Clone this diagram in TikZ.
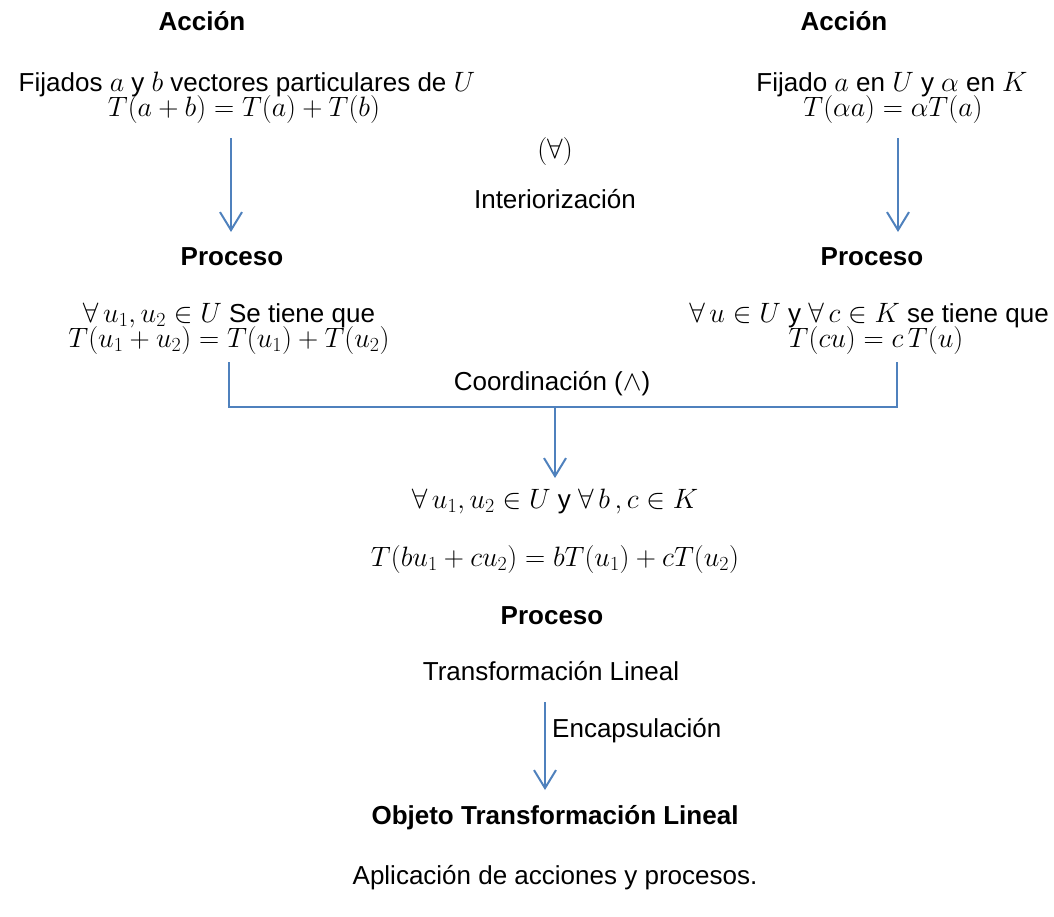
\RequirePackage{fix-cm}
\documentclass[tikz,border=0pt]{standalone}
\usepackage{fontspec}
\setmainfont{Liberation Sans}
\DeclareMathSizes{26}{28}{20}{15}
\usetikzlibrary{arrows.meta}
\definecolor{arrowblue}{RGB}{79,129,189}
\begin{document}
\begin{tikzpicture}[x=1pt,y=-1pt,
  every node/.style={inner sep=0pt, anchor=base, font=\fontsize{26}{24}\selectfont},
  head/.style={font=\fontsize{26}{24}\selectfont\bfseries},
  conn/.style={draw=arrowblue, line width=2pt},
  arr/.style={conn, -{Straight Barb[length=18pt,width=22pt]}}]
\useasboundingbox (0,0) rectangle (1054,916);
% texts
\node[head] (actL) at (202,30) {Acción};
\node[head] (actR) at (844,30) {Acción};
\node (fL1) at (247,91) {Fijados $a$ y $b$ vectores particulares de $U$};
\node (fL2) at (244,116) {$T(a+b)=T(a)+T(b)$};
\node (fR1) at (892,91) {Fijado $a$ en $U$ y $\alpha$ en $K$};
\node (fR2) at (893,116) {$T(\alpha a)=\alpha T(a)$};
\node (forall) at (555,158) {$(\forall)$};
\node (inter) at (555,208) {Interiorización};
\node[head] (pL) at (232,265) {Proceso};
\node[head] (pR) at (872,265) {Proceso};
\node (gL1) at (229,322) {$\forall\, u_1,u_2\in U$ Se tiene que};
\node (gL2) at (229,347) {$T(u_1+u_2)=T(u_1)+T(u_2)$};
\node (gR1) at (869,322) {$\forall\, u\in U$ y $\forall\, c\in K$ se tiene que};
\node (gR2) at (876,347) {$T(cu)=c\,T(u)$};
\node (coord) at (552,390) {Coordinación ($\wedge$)};
\node (h1) at (555,508) {$\forall\, u_1,u_2\in U$ y $\forall\, b\,,c\in K$};
\node (h2) at (555,566) {$T(bu_1+cu_2)=bT(u_1)+cT(u_2)$};
\node[head] (pC) at (552,624) {Proceso};
\node (tl) at (551,680) {Transformación Lineal};
\node[anchor=base west] (enc) at (552,737) {Encapsulación};
\node[head] (obj) at (555,824) {Objeto Transformación Lineal};
\node (apl) at (555,884) {Aplicación de acciones y procesos.};
% connector points
\coordinate (aLs) at (231,138);
\coordinate (aLe) at (231,232);
\coordinate (aRs) at (898,138);
\coordinate (aRe) at (898,232);
\coordinate (vL) at (229,362);
\coordinate (vR) at (897,362);
\coordinate (jL) at (229,407);
\coordinate (jR) at (897,407);
\coordinate (jC) at (555,407);
\coordinate (jCe) at (555,478);
\coordinate (eS) at (545,702);
\coordinate (eE) at (545,790);
% connectors
\draw[arr] (aLs) -- (aLe);
\draw[arr] (aRs) -- (aRe);
\draw[conn] (vL) -- (jL) -- (jR) -- (vR);
\draw[arr] (jC) -- (jCe);
\draw[arr] (eS) -- (eE);
\end{tikzpicture}
\end{document}
